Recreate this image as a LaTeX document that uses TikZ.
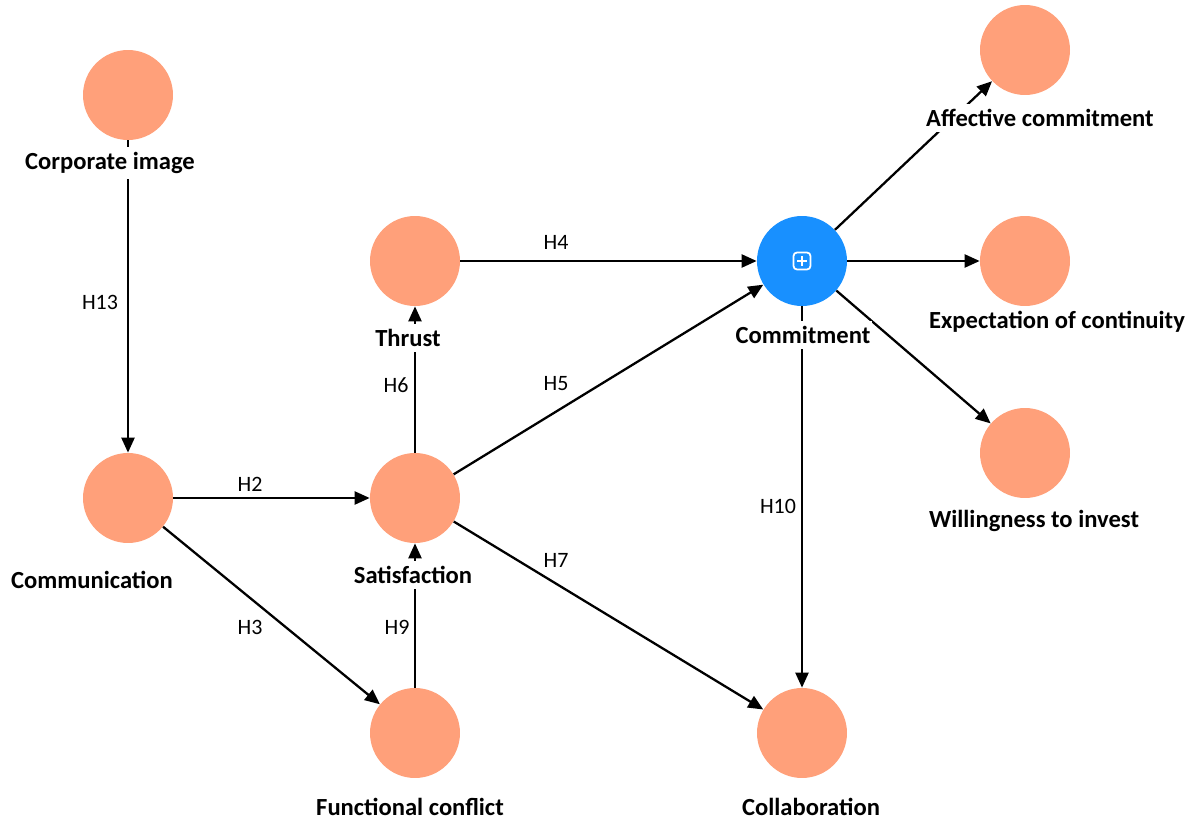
\documentclass[tikz,border=0pt]{standalone}
\usepackage{fontspec}
\setmainfont{Carlito}
\usetikzlibrary{arrows.meta,positioning,calc}

\definecolor{latent}{RGB}{255,160,122}
\definecolor{hoc}{RGB}{24,144,255}

\tikzset{
  lv/.style={circle, fill=latent, minimum size=1.8cm, inner sep=0pt},
  hv/.style={circle, fill=hoc, minimum size=1.8cm, inner sep=0pt},
  lbl/.style={fill=white, inner xsep=1pt, inner ysep=3pt, font=\fontsize{14}{16}\selectfont\bfseries},
  hyp/.style={inner sep=1pt, font=\fontsize{12.5}{15}\selectfont},
  pth/.style={line width=1.3pt, -{Triangle[length=3mm,width=2.6mm]}},
}

\begin{document}
\begin{tikzpicture}[x=0.02cm, y=-0.02cm]
  \useasboundingbox (0,0) rectangle (1197,821);

  % constructs
  \node[lv] (corp) at (128,95) {};
  \node[lv] (comm) at (128,498) {};
  \node[lv] (sat)  at (415,498) {};
  \node[lv] (thr)  at (415,261) {};
  \node[lv] (func) at (415,733) {};
  \node[hv] (cmt)  at (802,261) {};
  \node[lv] (coll) at (802,733) {};
  \node[lv] (aff)  at (1025,50) {};
  \node[lv] (exp)  at (1025,261) {};
  \node[lv] (wil)  at (1025,453) {};

  % higher-order icon
  \draw[white, line width=1pt, rounded corners=2pt] ($(cmt)+(-8.5,-8.5)$) rectangle ($(cmt)+(8.5,8.5)$);
  \draw[white, line width=1pt] ($(cmt)+(-5,0)$) -- ($(cmt)+(5,0)$) ($(cmt)+(0,-5)$) -- ($(cmt)+(0,5)$);

  % structural paths
  \draw[pth] (corp) -- (comm);
  \draw[pth] (comm) -- (sat);
  \draw[pth] (comm) -- (func);
  \draw[pth] (sat) -- (thr);
  \draw[pth] (func) -- (sat);
  \draw[pth] (thr) -- (cmt);
  \draw[pth] (sat) -- (cmt);
  \draw[pth] (sat) -- (coll);
  \draw[pth] (cmt) -- (coll);
  \draw[pth] (cmt) -- (aff);
  \draw[pth] (cmt) -- (exp);
  \draw[pth] (cmt) -- (wil);

  % construct names
  \node[lbl] (corpL) at (110,163) {Corporate image};
  \node[lbl] (commL) at (92,580)  {Communication};
  \node[lbl] (satL)  at (413,575) {Satisfaction};
  \node[lbl] (thrL)  at (408,338) {Thrust};
  \node[lbl] (funcL) at (410,807) {Functional conflict};
  \node[lbl] (cmtL)  at (803,335) {Commitment};
  \node[lbl] (collL) at (811,807) {Collaboration};
  \node[lbl] (affL)  at (1040,118) {Affective commitment};
  \node[lbl] (expL)  at (1057,322) {Expectation of continuity};
  \node[lbl] (wilL)  at (1034,521) {Willingness to invest};

  % hypotheses
  \node[hyp] (h13) at (100,302) {H13};
  \node[hyp] (h2)  at (250,484) {H2};
  \node[hyp] (h3)  at (250,627) {H3};
  \node[hyp] (h6)  at (396,385) {H6};
  \node[hyp] (h9)  at (397,627) {H9};
  \node[hyp] (h4)  at (556,242) {H4};
  \node[hyp] (h5)  at (556,384) {H5};
  \node[hyp] (h7)  at (556,560) {H7};
  \node[hyp] (h10) at (778,506) {H10};
\end{tikzpicture}
\end{document}
